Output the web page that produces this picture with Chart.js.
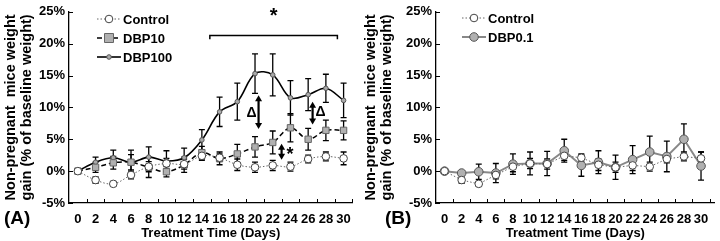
<!DOCTYPE html>
<html><head><meta charset="utf-8">
<script src="https://cdn.jsdelivr.net/npm/chart.js@4"></script>
<style>
body{margin:0;background:#fff;width:720px;height:241px;overflow:hidden;display:flex}
.w{position:relative;width:360px;height:241px}
canvas{display:block}
</style></head><body>
<div class="w"><canvas id="a" width="360" height="241"></canvas></div>
<div class="w"><canvas id="b" width="360" height="241"></canvas></div>
<script>
const days=[0,2,4,6,8,10,12,14,16,18,20,22,24,26,28,30];
const control=[0,-1.4,-2.0,-0.6,0.7,1.2,1.1,2.4,2.1,1.0,0.6,0.9,0.7,1.9,2.3,2.0];
const controlErr=[0,0.5,0.4,0.6,0.8,0.8,0.8,0.7,0.6,0.9,0.8,0.8,0.7,0.6,0.7,1.0];
const dbp10=[0,0.6,1.3,1.4,0.6,-0.1,1.0,2.9,2.0,2.7,3.8,4.5,6.8,5.0,6.4,6.4];
const dbp10Err=[0,0.8,1.0,1.2,1.6,0.8,1.2,1.0,1.0,1.5,1.6,1.8,2.2,1.7,1.6,1.5];
const dbp100=[0,1.4,2.1,1.4,2.2,1.6,2.1,4.9,9.3,10.9,15.3,15.1,11.5,12.0,13.0,11.1];
const dbp100Err=[0,0.8,1.2,1.9,1.6,1.6,1.5,1.6,2.3,2.9,3.1,3.3,2.7,2.5,2.2,2.7];
const dbp01=[0,-0.3,-0.1,-0.3,1.1,1.2,1.2,3.2,0.9,1.4,0.6,1.8,3.0,2.3,5.0,0.8];
const dbp01Err=[0,0.3,1.2,1.5,1.6,1.8,1.9,1.8,1.7,1.8,1.9,2.2,2.5,2.4,2.4,2.2];
const yTicks=[-5,0,5,10,15,20,25];
const xLabels=days;

const FONT='"Liberation Sans", Arial, sans-serif';
const pts=a=>a.map((v,i)=>({x:days[i],y:v}));

function ds(label,vals,errs,st){
  return Object.assign({label,data:pts(vals),errs,fill:false,borderColor:'#000',borderWidth:1.5,
    pointBackgroundColor:'#fff',pointBorderColor:'#333',pointBorderWidth:1,pointRadius:4,pointHoverRadius:4},st);
}

const errPlugin={id:'err',beforeDatasetsDraw(ch){
  const c=ch.ctx,xs=ch.scales.x,ys=ch.scales.y;
  c.save();c.strokeStyle='#000';c.lineWidth=1.3;
  ch.data.datasets.forEach(d=>{
    d.data.forEach((p,i)=>{
      const e=d.errs[i];if(!e)return;
      const x=xs.getPixelForValue(p.x),y1=ys.getPixelForValue(p.y-e),y2=ys.getPixelForValue(p.y+e);
      c.beginPath();c.moveTo(x,y1);c.lineTo(x,y2);
      c.moveTo(x-3,y1);c.lineTo(x+3,y1);c.moveTo(x-3,y2);c.lineTo(x+3,y2);c.stroke();
    });
  });
  c.restore();
}};

const tickPlugin={id:'tk',afterDraw(ch){
  const c=ch.ctx,xs=ch.scales.x,ys=ch.scales.y,a=ch.chartArea;
  c.save();c.strokeStyle='#000';c.lineWidth=1;
  yTicks.forEach(v=>{const y=Math.round(ys.getPixelForValue(v))+0.5;c.beginPath();c.moveTo(a.left,y);c.lineTo(a.left+4,y);c.stroke();});
  for(let d=1;d<=31;d+=2){const x=Math.round(xs.getPixelForValue(d))+0.5;if(x>a.right+1)continue;c.beginPath();c.moveTo(x,a.bottom);c.lineTo(x,a.bottom-4);c.stroke();}
  c.restore();
}};

function drawMarker(c,d,x,y){
  c.save();
  c.fillStyle=d.pointBackgroundColor;c.strokeStyle=d.pointBorderColor;c.lineWidth=d.pointBorderWidth;
  const r=d.pointRadius;
  c.beginPath();
  if(d.pointStyle==='rect'){c.rect(x-r,y-r,2*r,2*r);}else{c.arc(x,y,r,0,Math.PI*2);}
  c.fill();c.stroke();c.restore();
}

function legendPlugin(x0,rows,panel){return {id:'lg',afterDraw(ch){
  const c=ch.ctx;
  ch.data.datasets.forEach((d,i)=>{
    const y=rows[i];
    c.save();c.strokeStyle=d.borderColor;c.lineWidth=d.borderWidth;c.setLineDash(d.borderDash||[]);
    c.beginPath();c.moveTo(x0,y);c.lineTo(x0+24,y);c.stroke();c.restore();
    drawMarker(c,d,x0+12,y);
    c.save();c.fillStyle='#000';c.font='bold 13px '+FONT;c.textBaseline='middle';c.fillText(d.label,x0+26,y+1);c.restore();
  });
  c.save();c.fillStyle='#000';c.font='bold 19px '+FONT;c.textBaseline='middle';
  c.fillText(panel,panel==='(A)'?4:25,219);c.restore();
}};}

const annPlugin={id:'ann',afterDraw(ch){
  const c=ch.ctx,xs=ch.scales.x,ys=ch.scales.y;
  const X=v=>xs.getPixelForValue(v),Y=v=>ys.getPixelForValue(v);
  c.save();c.strokeStyle='#000';c.fillStyle='#000';
  c.lineWidth=1.5;c.beginPath();
  c.moveTo(X(14.9),Y(20.7));c.lineTo(X(14.9),Y(21.3));c.lineTo(X(29.3),Y(21.3));c.lineTo(X(29.3),Y(20.7));c.stroke();
  c.font='bold 20px '+FONT;c.textAlign='center';c.textBaseline='middle';
  c.fillText('*',X(22.1),Y(24.3));
  function arrow(d,top,bot){
    const x=X(d),y1=Y(top),y2=Y(bot);
    c.lineWidth=2.2;c.beginPath();c.moveTo(x,y1+4);c.lineTo(x,y2-4);c.stroke();
    c.beginPath();c.moveTo(x,y1);c.lineTo(x-3.5,y1+6);c.lineTo(x+3.5,y1+6);c.closePath();c.fill();
    c.beginPath();c.moveTo(x,y2);c.lineTo(x-3.5,y2-6);c.lineTo(x+3.5,y2-6);c.closePath();c.fill();
  }
  arrow(20.4,11.9,6.6);arrow(26.5,10.9,7.3);arrow(23.0,4.3,1.8);
  c.font='bold 14px '+FONT;
  c.fillText('Δ',X(19.6),Y(9.1));c.fillText('Δ',X(27.4),Y(9.3));
  c.font='bold 18px '+FONT;c.fillText('*',X(23.95),Y(2.5));
  c.restore();
}};

function opts(leftW,xmax,rightPad){return {
  responsive:false,animation:false,
  layout:{padding:{top:6,right:rightPad,left:0,bottom:0}},
  plugins:{legend:{display:false},tooltip:{enabled:false}},
  elements:{line:{borderCapStyle:'butt'}},
  scales:{
    x:{type:'linear',min:-1,max:xmax,
      afterBuildTicks:s=>{s.ticks=xLabels.map(v=>({value:v}));},
      afterFit:s=>{s.height=38;},
      grid:{display:false,drawTicks:false},border:{display:true,color:'#000',width:1.3},
      ticks:{color:'#000',font:{family:FONT,size:13,weight:'bold'},padding:9,maxRotation:0,autoSkip:false,callback:v=>v},
      title:{display:true,text:'Treatment Time (Days)',color:'#000',font:{family:FONT,size:13,weight:'bold'},padding:{top:0,bottom:0}}},
    y:{min:-5,max:25,
      afterBuildTicks:s=>{s.ticks=yTicks.map(v=>({value:v}));},
      afterFit:s=>{s.width=leftW;},
      grid:{display:false,drawTicks:false},border:{display:true,color:'#000',width:1.3},
      ticks:{color:'#000',font:{family:FONT,size:13,weight:'bold'},padding:4,callback:v=>v+'%'},
      title:{display:true,text:['Non-pregnant  mice weight','gain (% of baseline weight)'],color:'#000',font:{family:FONT,size:14.5,weight:'bold',lineHeight:1.12},padding:{top:3,bottom:0}}}
  }
};}

const ctrlStyle={borderColor:'#666',borderWidth:1,borderDash:[1.5,2],pointBackgroundColor:'#fff',pointBorderColor:'#444',pointRadius:3.8};

new Chart(document.getElementById('a'),{type:'line',
  data:{datasets:[
    ds('Control',control,controlErr,Object.assign({tension:0.35},ctrlStyle)),
    ds('DBP10',dbp10,dbp10Err,{borderDash:[5,3],borderWidth:1.5,pointStyle:'rect',pointRadius:4.5,pointBackgroundColor:'#b0b0b0',pointBorderColor:'#666',tension:0.35}),
    ds('DBP100',dbp100,dbp100Err,{borderWidth:1.6,pointRadius:2.3,pointBackgroundColor:'#aaa',pointBorderColor:'#555',tension:0.35})
  ]},
  options:opts(69,31,3),
  plugins:[errPlugin,tickPlugin,annPlugin,legendPlugin(97,[19,38,57],'(A)')]
});

new Chart(document.getElementById('b'),{type:'line',
  data:{datasets:[
    ds('Control',control,controlErr,Object.assign({tension:0},ctrlStyle)),
    ds('DBP0.1',dbp01,dbp01Err,{borderColor:'#888',borderWidth:2,pointRadius:4.3,pointBackgroundColor:'#b0b0b0',pointBorderColor:'#555',tension:0})
  ]},
  options:opts(76,31.6,0),
  plugins:[errPlugin,tickPlugin,legendPlugin(102,[18,37],'(B)')]
});
</script>
</body></html>
